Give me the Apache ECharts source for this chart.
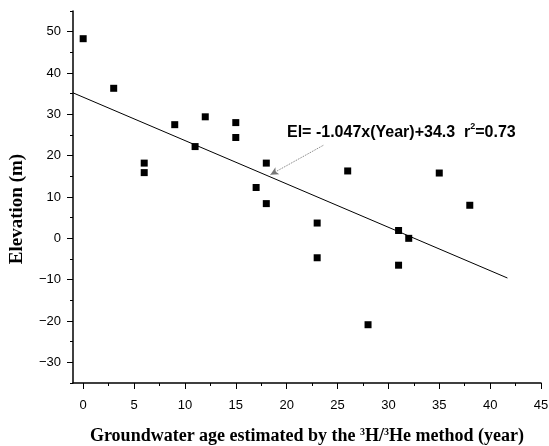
<!DOCTYPE html>
<html>
<head>
<meta charset="utf-8">
<script src="https://cdn.jsdelivr.net/npm/echarts@6/dist/echarts.min.js"></script>
<style>html,body{margin:0;padding:0;background:#fff;}#c{width:549px;height:446px;}</style>
</head>
<body>
<div id="c"></div>
<script>
// Data
var ages = [0, 3, 6, 6, 9, 11, 12, 15, 15, 17, 18, 18, 23, 23, 26, 28, 31, 31, 32, 35, 38];
var elevations = [48.3, 36.3, 18.2, 15.9, 27.5, 22.2, 29.4, 28.0, 24.4, 12.3, 18.2, 8.4, 3.7, -4.7, 16.3, -20.9, 1.9, -6.5, 0, 15.8, 8.0];
var fitLineX = [-1, 41.7];
var fitLineY = [35.2, -9.6];
var arrowFrom = [23.6, 22.5];
var arrowTo = [18.4, 15.4];
var xMajorTicks = [0, 5, 10, 15, 20, 25, 30, 35, 40, 45];
var xMinorTicks = [2.5, 7.5, 12.5, 17.5, 22.5, 27.5, 32.5, 37.5, 42.5];
var yMajorTicks = [-30, -20, -10, 0, 10, 20, 30, 40, 50];
var yMinorTicks = [-35, -25, -15, -5, 5, 15, 25, 35, 45, 55];

var points = ages.map(function (a, i) { return [a, elevations[i]]; });
var fitLine = fitLineX.map(function (x, i) { return [x, fitLineY[i]]; });

function fmt(v) { return v < 0 ? '\u2212' + Math.abs(v) : String(v); }

var chart = echarts.init(document.getElementById('c'), null, { renderer: 'canvas' });
var axisLine = { show: true, onZero: false, lineStyle: { color: '#000', width: 1.5 } };
var labelFont = { fontFamily: 'Liberation Sans, Arial, sans-serif', fontSize: 13, color: '#000' };

chart.setOption({
  animation: false,
  backgroundColor: '#fff',
  grid: { left: 73, right: 8, top: 11, bottom: 63, containLabel: false, outerBoundsMode: 'none' },
  xAxis: [{
    type: 'value', min: -1, max: 45,
    splitLine: { show: false },
    axisLine: axisLine,
    axisTick: { show: true, customValues: xMajorTicks, length: 6, lineStyle: { color: '#000', width: 1 } },
    axisLabel: Object.assign({ customValues: xMajorTicks, margin: 16, formatter: fmt }, labelFont),
    name: 'Groundwater age estimated by the {sup|3}H/{sup|3}He method (year)',
    nameLocation: 'middle', nameGap: 44,
    nameTextStyle: {
      fontFamily: 'Liberation Serif, Times New Roman, serif', fontWeight: 'bold', fontSize: 18, color: '#000',
      rich: { sup: { fontFamily: 'Liberation Serif, Times New Roman, serif', fontWeight: 'bold', fontSize: 10, verticalAlign: 'top', padding: [0, 0, 8, 0], color: '#000' } }
    }
  }, {
    type: 'value', min: -1, max: 45, position: 'bottom',
    splitLine: { show: false },
    axisLine: { show: false, onZero: false },
    axisTick: { show: true, customValues: xMinorTicks, length: 3, lineStyle: { color: '#000', width: 1 } },
    axisLabel: { show: false }
  }],
  yAxis: [{
    type: 'value', min: -35, max: 55,
    splitLine: { show: false },
    axisLine: axisLine,
    axisTick: { show: true, customValues: yMajorTicks, length: 6, lineStyle: { color: '#000', width: 1 } },
    axisLabel: Object.assign({ customValues: yMajorTicks, margin: 12, formatter: fmt }, labelFont),
    name: 'Elevation (m)',
    nameLocation: 'middle', nameGap: 46, nameRotate: 90,
    nameTextStyle: {
      fontFamily: 'Liberation Serif, Times New Roman, serif', fontWeight: 'bold', fontSize: 19, color: '#000',
      padding: [0, 24, 0, 0]
    }
  }, {
    type: 'value', min: -35, max: 55, position: 'left',
    splitLine: { show: false },
    axisLine: { show: false, onZero: false },
    axisTick: { show: true, customValues: yMinorTicks, length: 3, lineStyle: { color: '#000', width: 1 } },
    axisLabel: { show: false }
  }],
  graphic: [{
    type: 'text', left: 287, top: 122,
    style: {
      text: '{b|El= -1.047x(Year)+34.3  r}{s|2}{b|=0.73}',
      rich: {
        b: { fontFamily: 'Liberation Sans, Arial, sans-serif', fontWeight: 'bold', fontSize: 16, fill: '#000', verticalAlign: 'bottom' },
        s: { fontFamily: 'Liberation Sans, Arial, sans-serif', fontWeight: 'bold', fontSize: 9, fill: '#000', verticalAlign: 'top', padding: [0, 0, 10, 0] }
      }
    }
  }],
  series: [{
    type: 'line', data: fitLine, xAxisIndex: 0, yAxisIndex: 0,
    symbol: 'none', lineStyle: { color: '#000', width: 1 }, silent: true,
    markLine: {
      silent: true, animation: false,
      symbol: ['none', 'arrow'], symbolSize: [6, 8],
      label: { show: false },
      lineStyle: { color: '#777', width: 1, type: 'dotted' },
      data: [[{ coord: arrowFrom }, { coord: arrowTo }]]
    }
  }, {
    type: 'scatter', data: points, xAxisIndex: 0, yAxisIndex: 0,
    symbol: 'rect', symbolSize: 7, itemStyle: { color: '#000', opacity: 1 }
  }]
});
</script>
</body>
</html>
